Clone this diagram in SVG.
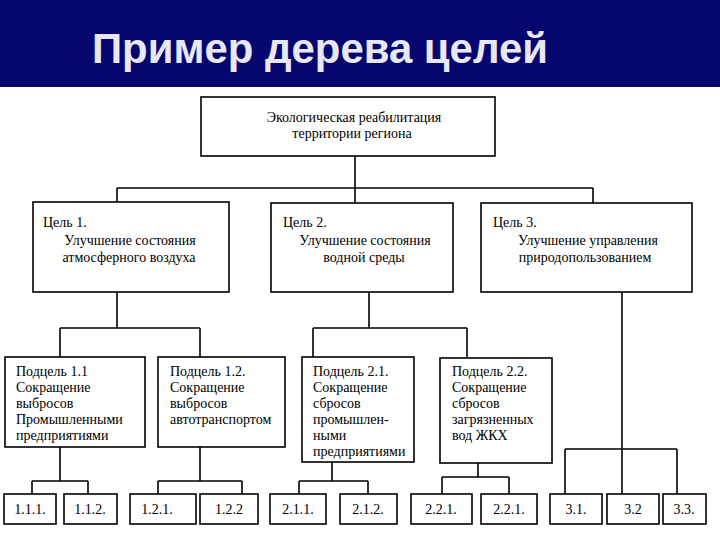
<svg xmlns="http://www.w3.org/2000/svg" width="720" height="540" viewBox="0 0 720 540">
<style>
.box{fill:#fff;stroke:#000;stroke-width:1.6}
.ln{fill:none;stroke:#000;stroke-width:1.6}
.t{font-family:"Liberation Serif","Times New Roman",serif;font-size:14px;fill:#000}
.c{text-anchor:middle}
.title{font-family:"Liberation Sans",Arial,sans-serif;font-weight:bold;font-size:42px;fill:#e8e8f4}
</style>
<rect x="0" y="0" width="720" height="540" fill="#fff"/>
<g id="header">
<rect x="0" y="0" width="720" height="87" fill="#06066e"/>
<text class="title" x="92" y="63" textLength="456" lengthAdjust="spacingAndGlyphs">Пример дерева целей</text>
</g>
<g id="connectors" class="ln">
<path d="M355 156V203M117 188H593M117 188V203M593 188V203"/>
<path d="M117 292V328M60 328H200M60 328V357M200 328V357"/>
<path d="M369 292V328M313 328H467M313 328V357M467 328V357"/>
<path d="M622 292V494M565 449H677M565 449V494M677 449V494"/>
<path d="M60 447V481M32 481H88M32 481V494M88 481V494"/>
<path d="M200 447V481M158 481H242M158 481V494M242 481V494"/>
<path d="M332 462V481M299 481H368M299 481V494M368 481V494"/>
<path d="M478 463V477M442 477H509M442 477V494M509 477V494"/>
</g>
<g id="root">
<rect class="box" x="201" y="97" width="294" height="59"/>
<text class="t c" x="354" y="122" font-size="13.5">Экологическая реабилитация</text>
<text class="t c" x="352" y="138" font-size="13.5">территории региона</text>
</g>
<g id="goal1">
<rect class="box" x="33" y="202" width="196" height="90"/>
<text class="t" x="43" y="227">Цель 1.</text>
<text class="t c" x="130" y="245">Улучшение состояния</text>
<text class="t c" x="129" y="262">атмосферного воздуха</text>
</g>
<g id="goal2">
<rect class="box" x="271" y="203" width="182" height="89"/>
<text class="t" x="283" y="227">Цель 2.</text>
<text class="t c" x="365" y="245">Улучшение состояния</text>
<text class="t c" x="364" y="262">водной среды</text>
</g>
<g id="goal3">
<rect class="box" x="481" y="203" width="211" height="89"/>
<text class="t" x="493" y="227">Цель 3.</text>
<text class="t c" x="588" y="245">Улучшение управления</text>
<text class="t c" x="585" y="262">природопользованием</text>
</g>
<g id="sub11">
<rect class="box" x="5" y="357" width="140" height="90"/>
<text class="t" x="16" y="376">Подцель 1.1</text>
<text class="t" x="16" y="392">Сокращение</text>
<text class="t" x="16" y="408">выбросов</text>
<text class="t" x="16" y="424">Промышленными</text>
<text class="t" x="16" y="440">предприятиями</text>
</g>
<g id="sub12">
<rect class="box" x="158" y="357" width="127" height="90"/>
<text class="t" x="170" y="376">Подцель 1.2.</text>
<text class="t" x="170" y="392">Сокращение</text>
<text class="t" x="170" y="408">выбросов</text>
<text class="t" x="170" y="424">автотранспортом</text>
</g>
<g id="sub21">
<rect class="box" x="302" y="357" width="112" height="105"/>
<text class="t" x="313" y="376">Подцель 2.1.</text>
<text class="t" x="313" y="392">Сокращение</text>
<text class="t" x="313" y="408">сбросов</text>
<text class="t" x="313" y="424">промышлен-</text>
<text class="t" x="313" y="440">ными</text>
<text class="t" x="313" y="456">предприятиями</text>
</g>
<g id="sub22">
<rect class="box" x="440" y="358" width="112" height="105"/>
<text class="t" x="452" y="376">Подцель 2.2.</text>
<text class="t" x="452" y="392">Сокращение</text>
<text class="t" x="452" y="408">сбросов</text>
<text class="t" x="452" y="424">загрязненных</text>
<text class="t" x="452" y="440">вод ЖКХ</text>
</g>
<g id="n111"><rect class="box" x="4" y="494" width="52" height="30"/><text class="t c" x="30" y="514">1.1.1.</text></g>
<g id="n112"><rect class="box" x="64" y="494" width="53" height="30"/><text class="t c" x="90" y="514">1.1.2.</text></g>
<g id="n121"><rect class="box" x="130" y="494" width="66" height="30"/><text class="t c" x="157" y="514">1.2.1.</text></g>
<g id="n122"><rect class="box" x="200" y="494" width="58" height="30"/><text class="t c" x="229" y="514">1.2.2</text></g>
<g id="n211"><rect class="box" x="270" y="494" width="56" height="30"/><text class="t c" x="298" y="514">2.1.1.</text></g>
<g id="n212"><rect class="box" x="340" y="494" width="57" height="30"/><text class="t c" x="368" y="514">2.1.2.</text></g>
<g id="n221"><rect class="box" x="411" y="494" width="61" height="30"/><text class="t c" x="441" y="514">2.2.1.</text></g>
<g id="n222"><rect class="box" x="481" y="494" width="56" height="30"/><text class="t c" x="509" y="514">2.2.1.</text></g>
<g id="n31"><rect class="box" x="550" y="494" width="52" height="30"/><text class="t c" x="576" y="514">3.1.</text></g>
<g id="n32"><rect class="box" x="607" y="494" width="52" height="30"/><text class="t c" x="633" y="514">3.2</text></g>
<g id="n33"><rect class="box" x="663" y="494" width="43" height="30"/><text class="t c" x="684" y="514">3.3.</text></g>
</svg>
